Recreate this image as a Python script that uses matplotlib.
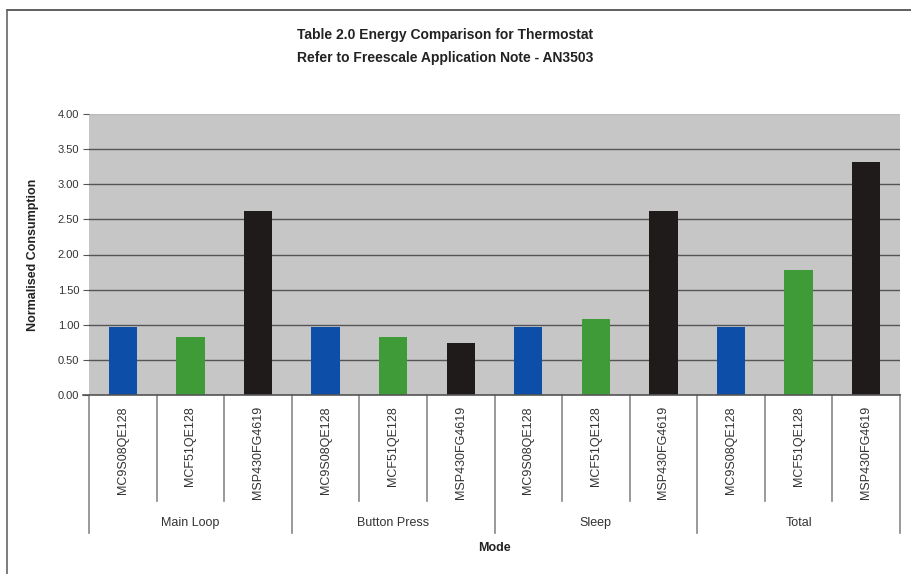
import matplotlib
matplotlib.use("Agg")
import matplotlib.pyplot as plt
import matplotlib.transforms as mtransforms
from matplotlib.lines import Line2D
import numpy as np

plt.rcParams['font.family'] = ['Liberation Sans', 'DejaVu Sans']

modes = ["Main Loop", "Button Press", "Sleep", "Total"]
devices = ["MC9S08QE128", "MCF51QE128", "MSP430FG4619"]
mc9s08 = [0.97, 0.97, 0.97, 0.97]
mcf51 = [0.82, 0.82, 1.08, 1.78]
msp430 = [2.62, 0.74, 2.62, 3.32]
yticks = [0.0, 0.5, 1.0, 1.5, 2.0, 2.5, 3.0, 3.5, 4.0]
title_lines = ["Table 2.0 Energy Comparison for Thermostat",
               "Refer to Freescale Application Note - AN3503"]
colors = ["#0c4ea8", "#3f9a38", "#1f1b1b"]

W, H = 911, 574
fig = plt.figure(figsize=(W / 100, H / 100), dpi=100)
fig.patch.set_facecolor("white")

# outer frame (cut off at right/bottom)
fig.add_artist(Line2D([7 / W, 1], [1 - 10 / H, 1 - 10 / H], color="#444444", lw=1.2))
fig.add_artist(Line2D([7 / W, 7 / W], [0, 1 - 10 / H], color="#666666", lw=1.2))

left, right, top, bottom = 89, 900, 114, 395
ax = fig.add_axes([left / W, 1 - bottom / H, (right - left) / W, (bottom - top) / H])
ax.set_facecolor("#c6c6c6")

series = [mc9s08, mcf51, msp430]
ng = len(modes)
nd = len(devices)
positions = []
labels = []
for g in range(ng):
    for d in range(nd):
        idx = g * nd + d
        ax.bar(idx, series[d][g], width=0.42, color=colors[d], zorder=3)
        positions.append(idx)
        labels.append(devices[d])

ax.set_xlim(-0.5, ng * nd - 0.5)
ax.set_ylim(0, 4.0)
ax.set_yticks(yticks)
ax.set_yticklabels([f"{v:.2f}" for v in yticks], fontsize=8, color="#333333")
ax.tick_params(axis="y", length=4, color="#555555", pad=3)
ax.yaxis.grid(True, color="#555555", lw=1.0, zorder=1)
gl = ax.yaxis.get_gridlines()
gl[-1].set_color("#bbbbbb")
for s in ["top", "right", "left"]:
    ax.spines[s].set_visible(False)
ax.spines["bottom"].set_visible(False)
# baseline extending slightly left of the plot area
ax.plot([-0.5 - 6 / ((right - left) / (ng * nd)), ng * nd - 0.5], [0, 0], color="#555555",
        lw=1.2, clip_on=False, zorder=4)

ax.set_xticks(positions)
ax.set_xticklabels(labels, rotation=90, fontsize=9, color="#333333", va="top")
ax.tick_params(axis="x", length=0, pad=8)

trans = mtransforms.blended_transform_factory(ax.transData, ax.transAxes)
hpx = bottom - top
# separators between devices and between groups
for k in range(ng * nd + 1):
    x = k - 0.5
    if k % nd == 0:
        depth = (533 - bottom) / hpx
    else:
        depth = (501 - bottom) / hpx
    ax.plot([x, x], [0, -depth], transform=trans, color="#888888", lw=1.2, clip_on=False)

for g, m in enumerate(modes):
    ax.text(g * nd + 1, -(523 - bottom) / hpx, m, transform=trans, ha="center", va="center",
            fontsize=9, color="#333333")

ax.text(0.5, -(548 - bottom) / hpx, "Mode", transform=ax.transAxes, ha="center", va="center",
        fontsize=9, fontweight="bold", color="#222222")

fig.text(33 / W, 1 - 255 / H, "Normalised Consumption", rotation=90, ha="center", va="center",
         fontsize=9, fontweight="bold", color="#222222")

fig.text(445 / W, 1 - 35 / H, title_lines[0], ha="center", va="center", fontsize=10,
         fontweight="bold", color="#222222")
fig.text(445 / W, 1 - 58 / H, title_lines[1], ha="center", va="center", fontsize=10,
         fontweight="bold", color="#222222")

fig.savefig("out.png", dpi=100)
